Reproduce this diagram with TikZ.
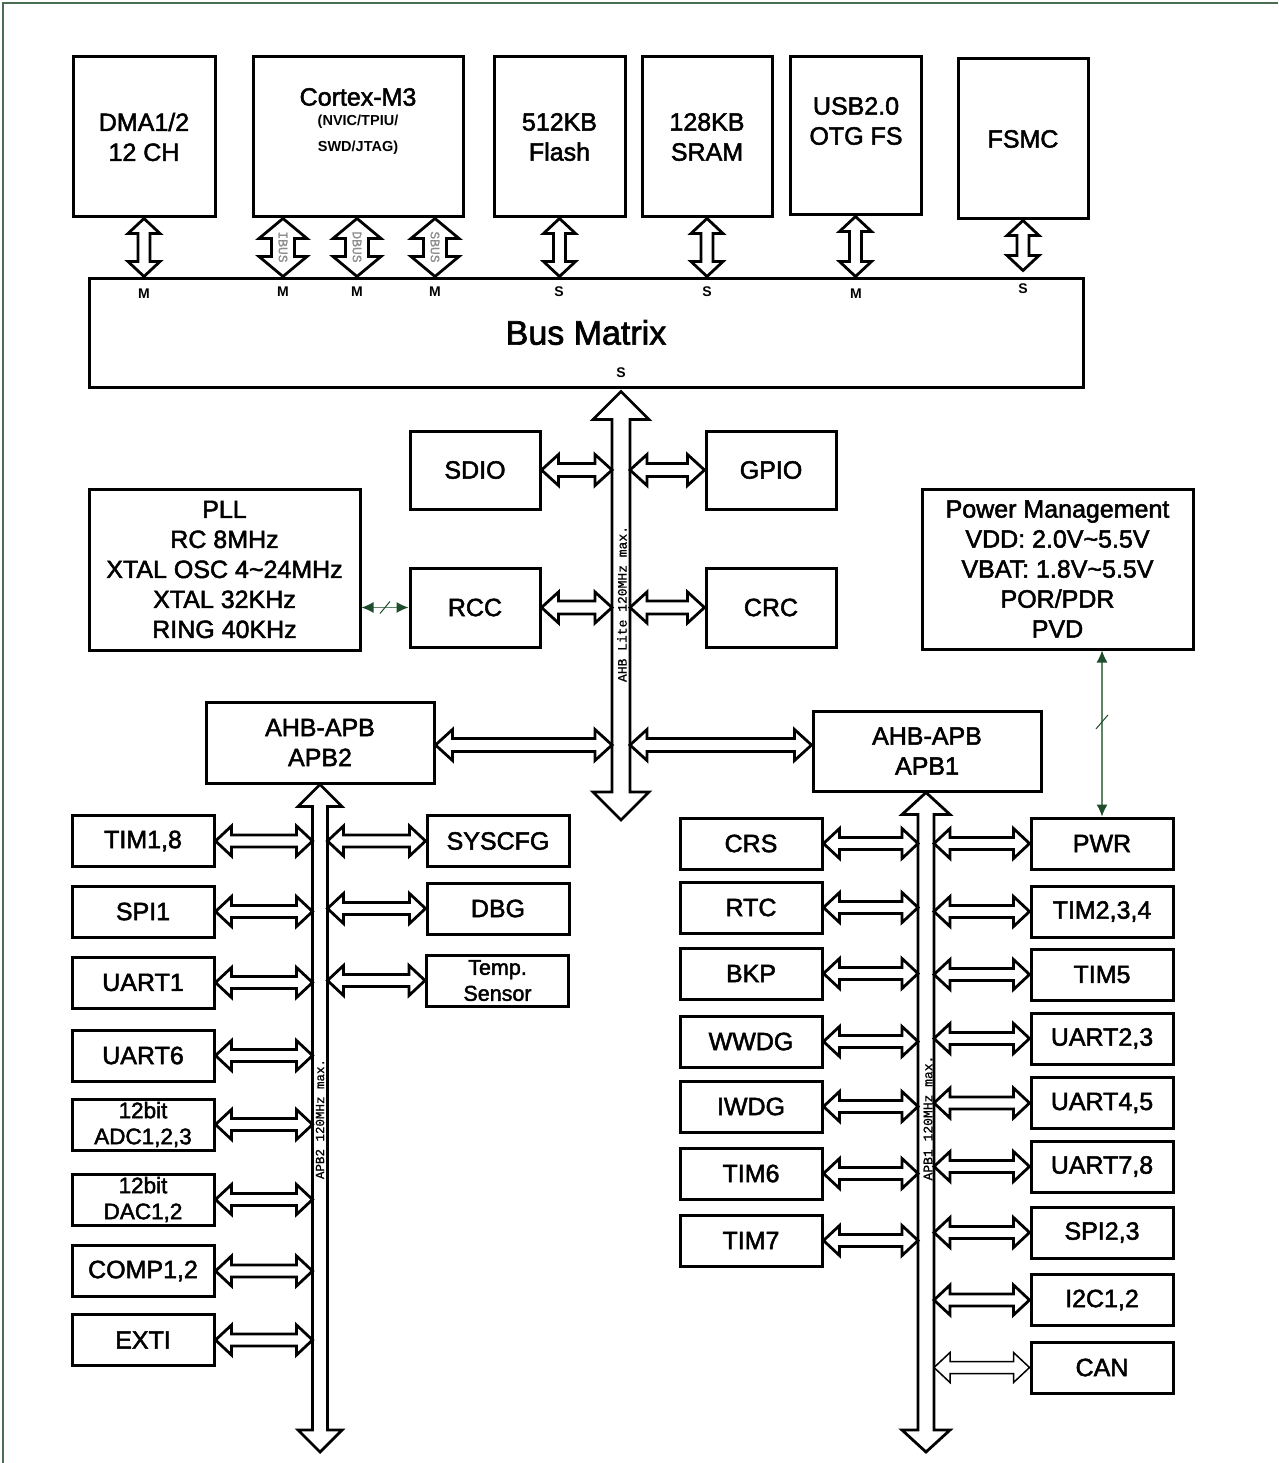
\documentclass[tikz,border=0pt]{standalone}
\usepackage{fontspec}
\setmainfont{Liberation Sans}
\newfontfamily\heavyfont{Liberation Sans}[FakeBold=2]
\newfontfamily\busfont{Liberation Mono}[FakeBold=0.8]
\usetikzlibrary{calc,arrows.meta}
\definecolor{dkgreen}{HTML}{1E4D2B}
\definecolor{ltgreen}{HTML}{5E8466}
\definecolor{framecol}{HTML}{4A6E55}
\tikzset{
  box/.style={draw, line width=3pt, inner sep=0pt, align=center, fill=white, font=\heavyfont\fontsize{25}{30}\selectfont},
  smallbox/.style={box, minimum width=142pt, minimum height=51pt},
  blockarrow/.style={draw, line width=2.8pt, fill=white, line join=miter},
  mslabel/.style={font=\bfseries\fontsize{14}{14}\selectfont, inner sep=0pt},
  buslabel/.style={font=\busfont\fontsize{13}{13}\selectfont, rotate=90, inner sep=0pt},
  ibuslabel/.style={font=\busfont\fontsize{13}{13}\selectfont, rotate=-90, text=black!45, inner sep=0pt},
  greenlink/.style={draw=ltgreen, line width=1.2pt, {Latex[length=12pt,width=11pt,color=dkgreen]}-{Latex[length=12pt,width=11pt,color=dkgreen]}},
  slashmark/.style={draw=dkgreen, line width=1pt},
  framestyle/.style={draw=framecol, line width=1.2pt}
}
% horizontal double block arrow: [opts]{left tip}{right tip}{shaft half}{head half}{head length}
\newcommand\HArrow[6][]{\draw[blockarrow,#1] let \p1=(#2),\p2=(#3) in
  (\x1,\y1) -- ({\x1+#6},{\y1+#5}) -- ({\x1+#6},{\y1+#4}) -- ({\x2-#6},{\y1+#4}) -- ({\x2-#6},{\y1+#5}) -- (\x2,\y1)
  -- ({\x2-#6},{\y1-#5}) -- ({\x2-#6},{\y1-#4}) -- ({\x1+#6},{\y1-#4}) -- ({\x1+#6},{\y1-#5}) -- cycle;}
% vertical double block arrow: [opts]{top tip}{bottom tip}{shaft half}{head half}{head length}
\newcommand\VArrow[6][]{\draw[blockarrow,#1] let \p1=(#2),\p2=(#3) in
  (\x1,\y1) -- ({\x1+#5},{\y1-#6}) -- ({\x1+#4},{\y1-#6}) -- ({\x1+#4},{\y2+#6}) -- ({\x1+#5},{\y2+#6}) -- (\x1,\y2)
  -- ({\x1-#5},{\y2+#6}) -- ({\x1-#4},{\y2+#6}) -- ({\x1-#4},{\y1-#6}) -- ({\x1-#5},{\y1-#6}) -- cycle;}
\newcommand\PeriH[3][]{\HArrow[#1]{#2}{#3}{6pt}{15pt}{16pt}}
\newcommand\MidH[3][]{\HArrow[#1]{#2}{#3}{6.5pt}{15.5pt}{17pt}}
\newcommand\TopV[2]{\VArrow{#1}{#2}{6pt}{16pt}{15pt}}
\newcommand\CoreV[2]{\VArrow{#1}{#2}{11.5pt}{24pt}{20pt}}

\begin{document}
\begin{tikzpicture}[x=1pt,y=-1pt]
\useasboundingbox (0,0) rectangle (1278,1463);
\draw[framestyle] (3,1463) -- (3,3) -- (1278,3);

% ---------- top row ----------
\node[box, minimum width=142pt, minimum height=160pt] (dma) at (144,137) {DMA1/2\\12 CH};
\node[box, minimum width=210pt, minimum height=160pt] (cm3) at (358,137) {};
\node[font=\heavyfont\fontsize{25}{25}\selectfont] (cm3t) at (358,97) {Cortex-M3};
\node[font=\bfseries\fontsize{14.5}{26}\selectfont, align=center] (cm3s) at (358,135) {(NVIC/TPIU/\\SWD/JTAG)};
\node[box, minimum width=131pt, minimum height=160pt] (flash) at (559.5,137) {512KB\\Flash};
\node[box, minimum width=130pt, minimum height=160pt] (sram) at (707,137) {128KB\\SRAM};
\node[box, minimum width=131pt, minimum height=158pt] (usb) at (855.5,136) {};
\node[font=\heavyfont\fontsize{25}{30}\selectfont, align=center] (usbt) at (856,121) {USB2.0\\OTG FS};
\node[box, minimum width=130pt, minimum height=160pt] (fsmc) at (1023,139) {FSMC};

% ---------- bus matrix ----------
\node[box, minimum width=994pt, minimum height=109pt, font=\heavyfont\fontsize{34}{34}\selectfont] (bm) at (586,332.5) {Bus Matrix};

\coordinate (ibx) at (283,0);
\coordinate (dbx) at (357,0);
\coordinate (sbx) at (435,0);
\coordinate (ahbx) at (621,0);
\coordinate (ahbL) at (612,0);
\coordinate (ahbR) at (630,0);
\coordinate (ahbEnd) at (621,820);

\TopV{dma.south}{dma.south |- bm.north}
\CoreV{cm3.south -| ibx}{bm.north -| ibx}
\CoreV{cm3.south -| dbx}{bm.north -| dbx}
\CoreV{cm3.south -| sbx}{bm.north -| sbx}
\TopV{flash.south}{flash.south |- bm.north}
\TopV{sram.south}{sram.south |- bm.north}
\TopV{usb.south}{usb.south |- bm.north}
\TopV{fsmc.south}{$(fsmc.south |- bm.north)+(0,-6)$}

\node[ibuslabel] (ibl) at (283,247) {IBUS};
\node[ibuslabel] (dbl) at (357,247) {DBUS};
\node[ibuslabel] (sbl) at (435,247) {SBUS};

\node[mslabel] (l1) at (144,294) {M};
\node[mslabel] (l2) at (283,292) {M};
\node[mslabel] (l3) at (357,292) {M};
\node[mslabel] (l4) at (435,292) {M};
\node[mslabel] (l5) at (559,292) {S};
\node[mslabel] (l6) at (707,292) {S};
\node[mslabel] (l7) at (856,294) {M};
\node[mslabel] (l8) at (1023,289) {S};
\node[mslabel] (l9) at (621,373) {S};

% ---------- AHB area ----------
\node[box, minimum width=130pt, minimum height=78pt] (sdio) at (475,470) {SDIO};
\node[box, minimum width=130pt, minimum height=78pt] (gpio) at (771,470) {GPIO};
\node[box, minimum width=130pt, minimum height=79pt] (rcc) at (475,607.5) {RCC};
\node[box, minimum width=130pt, minimum height=79pt] (crc) at (771,607.5) {CRC};
\node[box, minimum width=271pt, minimum height=161pt] (pll) at (224.5,569.5)
  {PLL\\RC 8MHz\\XTAL OSC 4\textasciitilde24MHz\\XTAL 32KHz\\RING 40KHz};
\node[box, minimum width=271pt, minimum height=160pt] (pm) at (1057.5,569)
  {Power Management\\VDD: 2.0V\textasciitilde5.5V\\VBAT: 1.8V\textasciitilde5.5V\\POR/PDR\\PVD};
\node[box, minimum width=228pt, minimum height=81pt] (apbtwo) at (320,742.5) {AHB-APB\\APB2};
\node[box, minimum width=228pt, minimum height=80pt] (apbone) at (927,751) {AHB-APB\\APB1};

\VArrow{$(bm.south -| ahbx)+(0,3)$}{ahbEnd}{9pt}{28pt}{28pt}
\node[buslabel] (ahbl) at (622,604) {AHB Lite 120MHz max.};

\MidH{sdio.east}{sdio.east -| ahbL}
\MidH{gpio.west -| ahbR}{gpio.west}
\MidH{rcc.east}{rcc.east -| ahbL}
\MidH{crc.west -| ahbR}{crc.west}
\coordinate (bry) at (0,745);
\MidH{apbtwo.east |- bry}{ahbL |- bry}
\MidH{ahbR |- bry}{apbone.west |- bry}

% green link PLL-RCC
\draw[greenlink] (pll.east |- rcc.west) -- coordinate[midway] (gm1) (rcc.west);
\draw[slashmark] ($(gm1)+(-5,6)$) -- ($(gm1)+(5,-6)$);

% ---------- APB2 ----------
\coordinate (apbtwoEnd) at (320,1452);
\coordinate (apbtwoL) at (312.5,0);
\coordinate (apbtwoR) at (327.5,0);
\VArrow{apbtwo.south}{apbtwoEnd}{7.5pt}{22pt}{22pt}
\node[buslabel, font=\busfont\fontsize{12.5}{12.5}\selectfont] (apb2l) at (320,1119) {APB2 120MHz max.};

\node[smallbox] (tim18) at (143,841) {TIM1,8};
\node[smallbox] (spi1) at (143,911.5) {SPI1};
\node[smallbox] (uart1) at (143,982.5) {UART1};
\node[smallbox] (uart6) at (143,1055.5) {UART6};
\node[smallbox, font=\heavyfont\fontsize{22.5}{26}\selectfont] (adc) at (143,1124.5) {12bit\\ADC1,2,3};
\node[smallbox, font=\heavyfont\fontsize{22.5}{26}\selectfont] (dac) at (143,1199.5) {12bit\\DAC1,2};
\node[smallbox] (comp) at (143,1271) {COMP1,2};
\node[smallbox] (exti) at (143,1340) {EXTI};
\node[smallbox] (syscfg) at (498,841) {SYSCFG};
\node[smallbox] (dbg) at (498,908.5) {DBG};
\node[smallbox, font=\heavyfont\fontsize{21.5}{26}\selectfont] (temp) at (497.5,980.5) {Temp.\\Sensor};

\foreach \nm in {tim18,spi1,uart1,uart6,adc,dac,comp,exti}
  {\PeriH{\nm.east}{\nm.east -| apbtwoL}}
\foreach \nm in {syscfg,dbg,temp}
  {\PeriH{\nm.west -| apbtwoR}{\nm.west}}

% ---------- APB1 ----------
\coordinate (apboneX) at (926,0);
\coordinate (apboneEnd) at (926,1452);
\coordinate (apboneL) at (918,0);
\coordinate (apboneR) at (934,0);
\VArrow{apbone.south -| apboneX}{apboneEnd}{8pt}{24pt}{22pt}
\node[buslabel] (apb1l) at (928,1118) {APB1 120MHz max.};

\node[smallbox] (crs) at (751,843.5) {CRS};
\node[smallbox] (rtc) at (751,907.5) {RTC};
\node[smallbox] (bkp) at (751,973.5) {BKP};
\node[smallbox] (wwdg) at (751,1041.5) {WWDG};
\node[smallbox] (iwdg) at (751,1106.5) {IWDG};
\node[smallbox] (tim6) at (751,1173.5) {TIM6};
\node[smallbox] (tim7) at (751,1240.5) {TIM7};

\node[smallbox] (pwr) at (1102,843.5) {PWR};
\node[smallbox] (tim234) at (1102,911.5) {TIM2,3,4};
\node[smallbox] (tim5) at (1102,974.5) {TIM5};
\node[smallbox] (uart23) at (1102,1038.5) {UART2,3};
\node[smallbox] (uart45) at (1102,1103) {UART4,5};
\node[smallbox] (uart78) at (1102,1166.5) {UART7,8};
\node[smallbox] (spi23) at (1102,1232.5) {SPI2,3};
\node[smallbox] (i2c) at (1102,1300) {I2C1,2};
\node[smallbox] (can) at (1102,1367.5) {CAN};

\foreach \nm in {crs,rtc,bkp,wwdg,iwdg,tim6,tim7}
  {\PeriH{\nm.east}{\nm.east -| apboneL}}
\foreach \nm in {pwr,tim234,tim5,uart23,uart45,uart78,spi23,i2c}
  {\PeriH{\nm.west -| apboneR}{\nm.west}}
\PeriH[line width=1.5pt]{can.west -| apboneR}{can.west}

% green link Power Management - PWR
\draw[greenlink] (pwr.north |- pm.south) -- coordinate[pos=0.43] (gm2) (pwr.north);
\draw[slashmark] ($(gm2)+(-6,7)$) -- ($(gm2)+(6,-7)$);

\end{tikzpicture}
\end{document}
